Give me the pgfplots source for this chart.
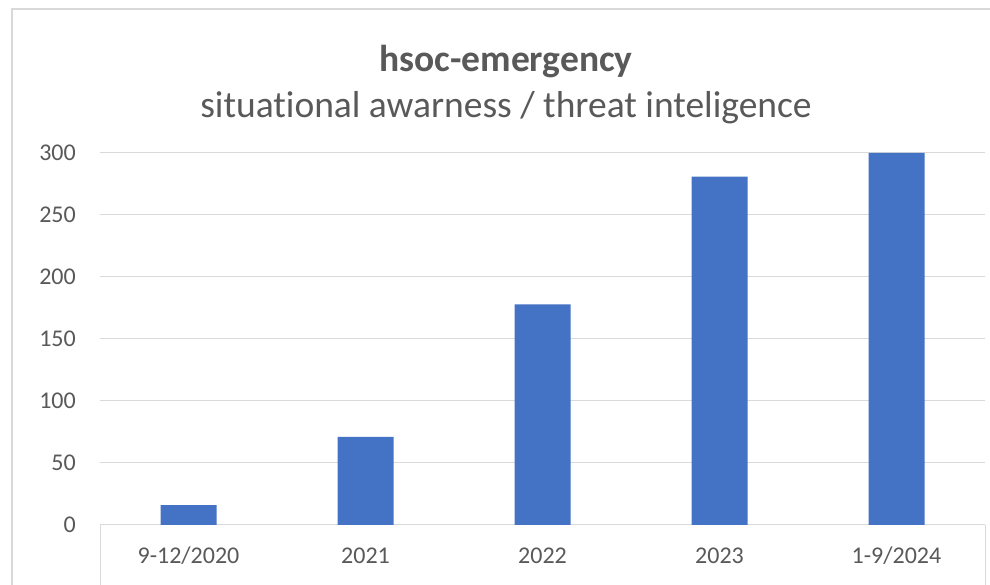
\documentclass[border=0pt]{standalone}
\usepackage{pgfplots}
\pgfplotsset{compat=1.18}
\usepackage{fontspec}
\setmainfont{Carlito}[Ligatures={NoCommon}]
\definecolor{barblue}{HTML}{4472C4}
\definecolor{txtgray}{HTML}{595959}
\definecolor{gridgray}{HTML}{D9D9D9}
\begin{document}
\begin{tikzpicture}[x=1pt,y=1pt]
\useasboundingbox (0,0) rectangle (990,585);
\fill[white] (0,0) rectangle (990,585);
% chart frame (cropped on the right and bottom)
\draw[gridgray, line width=1.5pt] (12,0) -- (12,576) -- (990,576);
\begin{axis}[
  at={(100pt,60pt)}, anchor=south west,
  width=885pt, height=372pt, scale only axis,
  xmin=-0.5, xmax=4.5, ymin=0, ymax=300,
  ytick={0,50,...,300},
  xtick={0,...,4},
  xticklabels={9-12/2020,2021,2022,2023,1-9/2024},
  major tick length=0pt,
  ymajorgrids, grid style={gridgray, line width=1pt},
  axis x line*=bottom, axis y line*=left,
  x axis line style={gridgray, line width=1pt, -},
  y axis line style={draw=none},
  tick label style={font=\fontsize{24}{24}\selectfont, text=txtgray, inner sep=0pt},
  yticklabel style={anchor=base east, xshift=-24pt, yshift=-8pt},
  xticklabel style={anchor=base, yshift=-39pt},
  /pgf/number format/assume math mode=true,
  clip=false,
]
\addplot[ybar, bar width=56pt, fill=barblue, draw=none]
  coordinates {(0,16) (1,71) (2,178) (3,281) (4,300)};
\end{axis}
\draw[gridgray, line width=1pt] (100,60) -- (100,0) (985,60) -- (985,0);
\node[anchor=base, text=txtgray, inner sep=0pt, font=\bfseries\fontsize{37.5}{37.5}\selectfont] at (506,513) {hsoc-emergency};
\node[anchor=base, text=txtgray, inner sep=0pt, font=\fontsize{37.5}{37.5}\selectfont] at (506,467) {situational awarness / threat inteligence};
\end{tikzpicture}
\end{document}
